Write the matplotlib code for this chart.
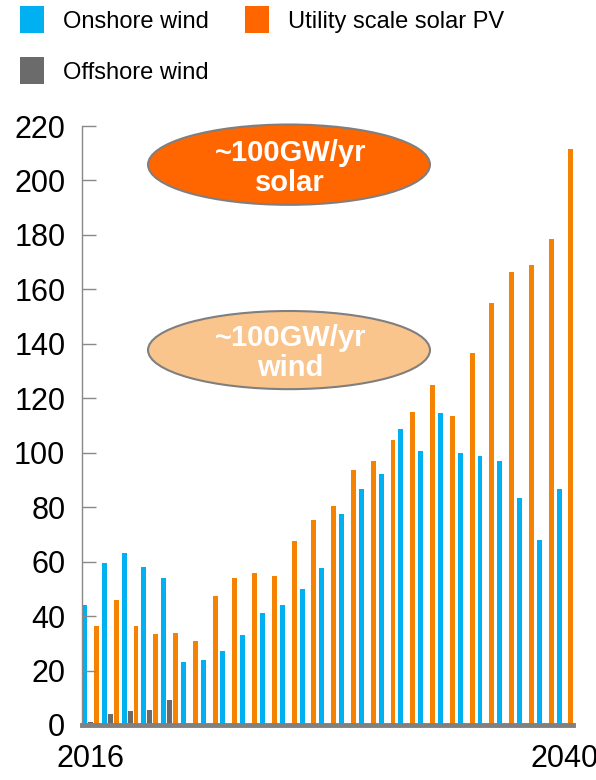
import numpy as np
import matplotlib
matplotlib.use("Agg")
import matplotlib.pyplot as plt
from matplotlib.patches import Ellipse, Rectangle

plt.rcParams['font.family'] = ['Liberation Sans', 'DejaVu Sans']

# Annual capacity additions, GW
years = list(range(2016, 2041))
onshore = [44, 59.5, 63, 58, 54, 23, 24, 27, 33, 41, 44, 50, 57.5, 77.5, 86.5,
           92.3, 108.8, 100.5, 114.6, 100, 98.7, 97, 83.3, 67.8, 86.8]
offshore = [1, 4, 5.2, 5.6, 9.3, 0, 0, 0, 0, 0, 0, 0, 0, 0, 0,
            0, 0, 0, 0, 0, 0, 0, 0, 0, 0]
solar = [36.3, 45.8, 36.3, 33.4, 33.9, 31, 47.5, 54, 55.8, 54.6, 67.5, 75.2,
         80.5, 93.6, 97.1, 104.8, 114.8, 124.8, 113.5, 136.5, 154.9, 166.2,
         169.1, 178.6, 211.5]
xlabels = ['2016', '2040']
series = ['Onshore wind', 'Offshore wind', 'Utility scale solar PV']

blue = '#00B0F0'
grey = '#6B6B6B'
orange = '#F58200'
orange_key = '#FF6600'
axis_grey = '#898989'

fig = plt.figure(figsize=(5.96, 7.8), dpi=100)
ax = fig.add_axes([82 / 596, 55 / 780, 491 / 596, 599 / 780])

x = np.arange(len(years))
w = 0.25
ax.bar(x - 0.3, onshore, w, color=blue)
ax.bar(x, offshore, w, color=grey)
ax.bar(x + 0.3, solar, w, color=orange)

ax.set_xlim(-0.43, len(years) - 1 + 0.405)
ax.set_ylim(0, 220)
ax.set_yticks(np.arange(0, 221, 20))
ax.set_xticks([0, len(years) - 1])
ax.set_xticklabels(xlabels)

ax.tick_params(axis='y', direction='in', length=10, width=1, color=axis_grey,
               pad=12, labelsize=22)
ax.tick_params(axis='x', length=0, pad=14, labelsize=22)
for s in ['top', 'right']:
    ax.spines[s].set_visible(False)
ax.spines['left'].set_color(axis_grey)
ax.spines['left'].set_linewidth(1)
ax.spines['bottom'].set_color('#808080')
ax.spines['bottom'].set_linewidth(3.5)

# Callouts
callouts = [('~100GW/yr\nsolar', 205.8, 29.5, '#FF6600'),
            ('~100GW/yr\nwind', 137.7, 28.7, '#FAC58C')]
for txt, yc, h, fc in callouts:
    ax.add_patch(Ellipse((10.04, yc), 14.26, h, facecolor=fc,
                         edgecolor='#7F7F7F', linewidth=1.5, clip_on=False,
                         zorder=5))
    ax.text(10.1, yc - 1.2, txt, ha='center', va='center', color='white',
            fontsize=21, fontweight='bold', linespacing=1.1, zorder=6)

# Key along the top
keys = [(series[0], blue, 20, 6), (series[2], orange_key, 245, 6),
        (series[1], grey, 20, 57)]
for label, col, px, py in keys:
    fig.patches.append(Rectangle((px / 596, 1 - (py + 27) / 780), 24 / 596,
                                 27 / 780, facecolor=col, edgecolor='none',
                                 transform=fig.transFigure))
    fig.text((px + 43) / 596, 1 - (py + 16) / 780, label, fontsize=17,
             va='center', ha='left')

fig.savefig('out.png', dpi=100)
